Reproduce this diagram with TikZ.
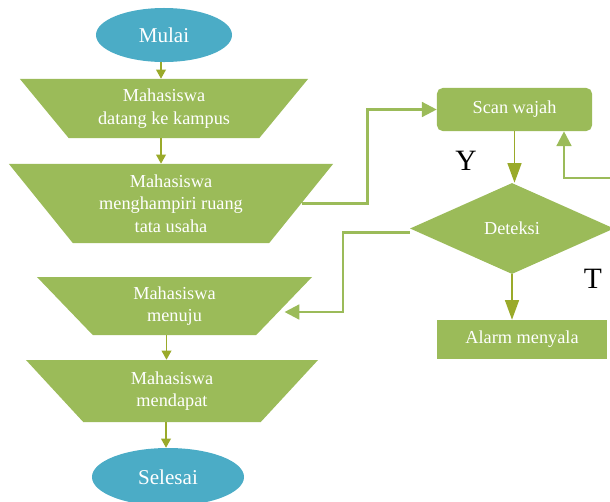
\documentclass[tikz,border=0pt]{standalone}
\usepackage{fontspec}
\setmainfont{Liberation Serif}
\usetikzlibrary{arrows.meta, shapes.geometric}

\definecolor{leaf}{HTML}{9BBB59}
\definecolor{arrowolive}{HTML}{9AAA2A}
\definecolor{sky}{HTML}{4BACC6}

\tikzset{
  terminal/.style={ellipse, fill=sky, text=white, inner sep=0pt, font=\fontsize{15}{18}\selectfont},
  manual/.style={trapezium, shape border rotate=180, trapezium stretches body, fill=leaf, text=white, align=center, inner sep=0pt, font=\fontsize{13}{16}\selectfont},
  procbox/.style={rectangle, fill=leaf, text=white, inner sep=0pt, font=\fontsize{13}{16}\selectfont},
  down/.style={draw=arrowolive, line width=0.95pt, -{Triangle[width=7pt,length=6.5pt]}},
  bigdown/.style={draw=arrowolive, line width=0.95pt, -{Triangle[width=10pt,length=14pt]}},
  elbow/.style={draw=leaf, line width=1.7pt, -{Triangle[width=10.5pt,length=10.5pt]}},
  answer/.style={font=\fontsize{21}{24}\selectfont}
}

\begin{document}
\begin{tikzpicture}[x=0.025cm, y=-0.025cm]
\clip (0,0) rectangle (610,501);

% left column
\node[terminal, minimum width=3.4cm, minimum height=1.35cm] (start) at (164,35) {Mulai};
\node[manual, trapezium left angle=38.8, trapezium right angle=38.8, minimum width=7.2cm, minimum height=1.475cm] (m1) at (164,108.5) {Mahasiswa\\datang ke kampus};
\node[manual, trapezium left angle=42.2, trapezium right angle=42.2, minimum width=8.1cm, minimum height=1.975cm] (m2) at (171,203.5) {Mahasiswa\\menghampiri ruang\\tata usaha};
\node[manual, trapezium left angle=35, trapezium right angle=35, minimum width=6.875cm, minimum height=1.45cm] (m3) at (174.5,306) {Mahasiswa\\menuju};
\node[manual, trapezium left angle=34.3, trapezium right angle=34.3, minimum width=7.3cm, minimum height=1.55cm] (m4) at (172,391) {Mahasiswa\\mendapat};
\node[terminal, minimum width=3.8cm, minimum height=1.45cm] (end) at (168,477) {Selesai};

% right column
\node[procbox, rounded corners=4pt, minimum width=3.875cm, minimum height=1.075cm] (scan) at (514.5,109.5) {Scan wajah};
\node[diamond, fill=leaf, text=white, inner sep=0pt, minimum width=5.1cm, minimum height=2.275cm, font=\fontsize{13}{16}\selectfont] (dtk) at (512,228.5) {Deteksi};
\node[procbox, minimum width=4.25cm, minimum height=0.975cm] (alarm) at (522,339.5) {Alarm menyala};

\node[answer] (yes) at (466,161) {Y};
\node[answer] (no) at (593,279) {T};

% arrows
\draw[down] ([xshift=-0.075cm]start.south) -- ([xshift=-0.075cm]start.south |- m1.north);
\draw[down] ([xshift=-0.075cm]m1.south) -- ([xshift=-0.075cm]m1.south |- m2.north);
\draw[down] ([xshift=-0.2cm]m3.south) -- ([xshift=-0.2cm]m3.south |- m4.north);
\draw[down] ([xshift=-0.15cm]m4.south) -- ([xshift=-0.15cm]m4.south |- end.north);
\draw[bigdown] (scan.south) -- (scan.south |- dtk.north);
\draw[bigdown] (dtk.south) -- (dtk.south |- alarm.north);

\draw[elbow] (m2.0) -- ++(66,0) |- (scan.west);
\draw[elbow] ([yshift=-0.1cm]dtk.west) -- ++(-67,0) |- ([yshift=-0.15cm]m3.0);
\coordinate (back) at (564,178);
\draw[elbow] (dtk.east) -- ++(12,0) |- (back) -- (back |- scan.south);
\end{tikzpicture}
\end{document}
